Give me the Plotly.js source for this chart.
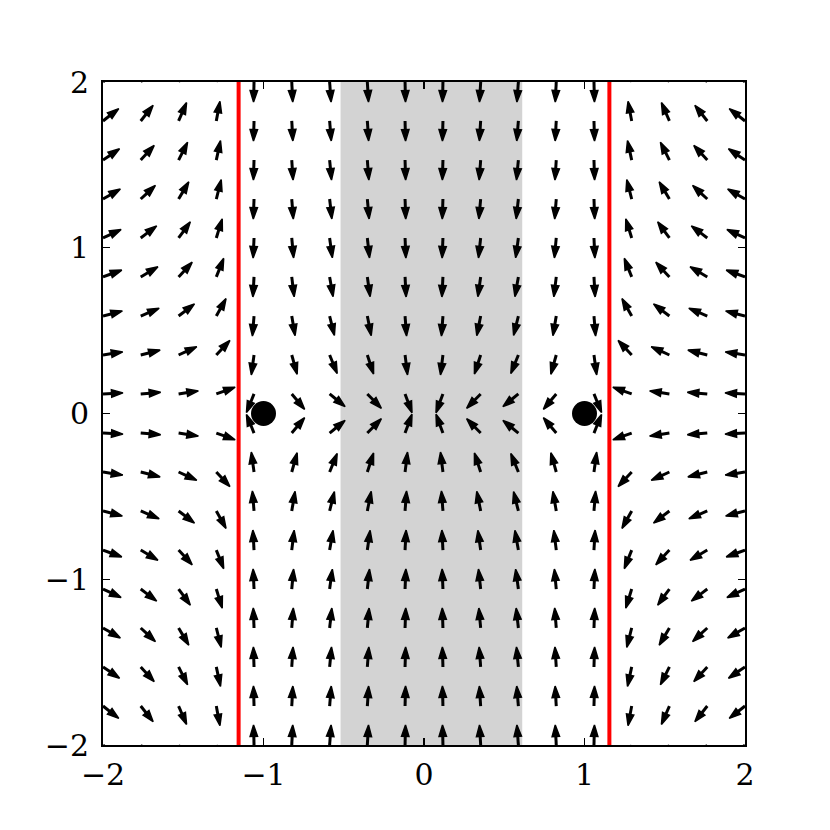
<!DOCTYPE html>
<html>
<head>
<meta charset="utf-8">
<script src="https://cdn.plot.ly/plotly-3.0.1.min.js"></script>
<style>
  body { margin: 0; background: #fff; }
  #diagram { width: 830px; height: 830px; }
</style>
</head>
<body>
<div id="diagram"></div>
<script>
  // grid of arrow tails (18 x 18 over [-2, 2])
  var gridX = [-2, -1.765, -1.529, -1.294, -1.059, -0.824, -0.588, -0.353, -0.118,
               0.118, 0.353, 0.588, 0.824, 1.059, 1.294, 1.529, 1.765, 2];
  var gridY = gridX.slice();

  // singular lines (red), fixed points (dots), stable band (grey)
  var singularX = [-1.155, 1.155];
  var pointX = [-1, 1];
  var pointY = [0, 0];
  var bandX = [-0.52, 0.612];

  // field: x' = x(x^2-1)/(a-x^2), y' = -k y/(a-x^2)
  var a = 4 / 3;
  var k = 8 / 3;

  var margin = {l: 103, r: 85, t: 82, b: 85};
  var W = 830, H = 830;
  var pxX = (W - margin.l - margin.r) / 4;
  var pxY = (H - margin.t - margin.b) / 4;
  var arrowPx = 20;

  var ax = [], ay = [], sizes = [];
  gridX.forEach(function(x){
    gridY.forEach(function(y){
      var d = a - x*x;
      var u = x*(x*x - 1)/d;
      var v = -k*y/d;
      var n = Math.sqrt(u*u + v*v);
      if (n === 0) return;
      u = u/n; v = v/n;
      ax.push(x, x + u*arrowPx/pxX, null);
      ay.push(y, y + v*arrowPx/pxY, null);
      sizes.push(0, 12, 0);
    });
  });

  var arrows = {
    x: ax, y: ay,
    type: 'scatter',
    mode: 'lines+markers',
    line: {color: 'black', width: 3},
    marker: {symbol: 'arrow', angleref: 'previous', size: sizes, color: 'black',
             opacity: 1, line: {width: 1.5, color: 'black'}},
    hoverinfo: 'skip',
    showlegend: false
  };

  var dots = {
    x: pointX, y: pointY,
    type: 'scatter',
    mode: 'markers',
    marker: {color: 'black', size: 25},
    showlegend: false
  };

  var shapes = [{
    type: 'rect', xref: 'x', yref: 'y', layer: 'below',
    x0: bandX[0], x1: bandX[1], y0: -2, y1: 2,
    fillcolor: '#d3d3d3', line: {width: 0}
  }];
  singularX.forEach(function(xv){
    shapes.push({
      type: 'line', xref: 'x', yref: 'y',
      x0: xv, x1: xv, y0: -2, y1: 2,
      line: {color: '#ff0000', width: 4}
    });
  });

  var axis = {
    range: [-2, 2],
    tickvals: [-2, -1, 0, 1, 2],
    ticks: 'inside', ticklen: 7, tickwidth: 1.3, tickcolor: 'black',
    showline: true, linecolor: 'black', linewidth: 2, mirror: 'ticks',
    showgrid: false, zeroline: false,
    fixedrange: true
  };

  var layout = {
    width: W, height: H,
    margin: margin,
    paper_bgcolor: 'white',
    plot_bgcolor: 'white',
    font: {family: 'DejaVu Serif', size: 30, color: 'black'},
    xaxis: Object.assign({}, axis, {ticklabelstandoff: 2}),
    yaxis: Object.assign({}, axis, {ticklabelstandoff: 6}),
    shapes: shapes,
    showlegend: false
  };

  Plotly.newPlot('diagram', [arrows, dots], layout, {displayModeBar: false, staticPlot: true});
</script>
</body>
</html>
